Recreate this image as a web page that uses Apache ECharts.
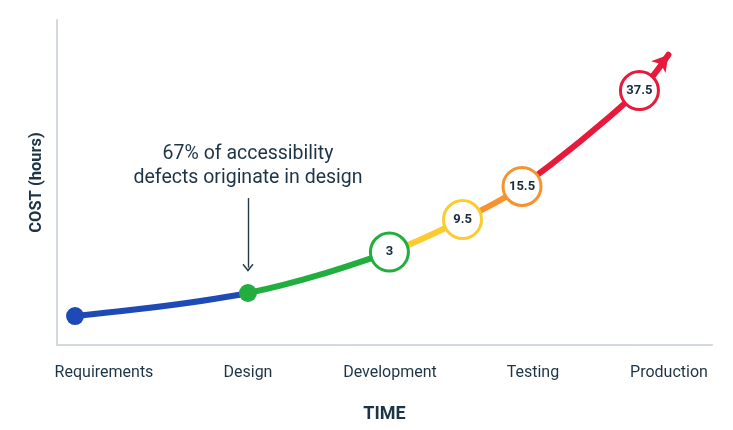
<!DOCTYPE html>
<html>
<head>
<meta charset="utf-8">
<script src="https://cdn.jsdelivr.net/npm/echarts@6/dist/echarts.min.js"></script>
<style>html,body{margin:0;padding:0;background:#fff}#c{width:733px;height:430px}</style>
</head>
<body>
<div id="c"></div>
<script>
// Stage names and where their labels sit on the (schematic) time axis
const stages = ['Requirements', 'Design', 'Development', 'Testing', 'Production'];
const stagePos = [0, 1.014, 2.014, 3.021, 3.979];

// Curve points: x = time progress, y = relative cost height (schematic)
const curveX = [-0.204, 1.014, 2.01, 2.525, 2.944, 3.771, 3.975];
const curveY = [8.9, 16.0, 28.6, 38.6, 48.8, 78.3, 89.3];

// Cost labels (hours) shown in the ringed markers
const costLabels = [null, null, '3', '9.5', '15.5', '37.5', null];

// Colour of each curve segment (segment i runs from point i to point i+1)
const segColors = ['#1d4ab4', '#22ad3f', '#fdca30', '#f7932e', '#e71a3b', '#e71a3b'];
// Colour of each point marker
const pointColors = ['#1d4ab4', '#22ad3f', '#22ad3f', '#fdca30', '#f7932e', '#e71a3b', '#e71a3b'];

const textColor = '#1d3447';

const chart = echarts.init(document.getElementById('c'), null, {renderer: 'canvas'});

const linePts = curveX.map((x, i) => {
  const p = {value: [x, curveY[i]]};
  if (i === curveX.length - 1) {
    p.symbol = 'arrow';
    p.symbolSize = [14, 16];
    p.symbolRotate = -39;
  } else {
    p.symbol = 'none';
  }
  return p;
});

const dots = [];
const rings = [];
curveX.forEach((x, i) => {
  if (i === curveX.length - 1) return;
  if (costLabels[i] === null) {
    dots.push({value: [x, curveY[i]], itemStyle: {color: pointColors[i]}});
  } else {
    rings.push({value: [x, curveY[i]], label: {formatter: costLabels[i]}, itemStyle: {borderColor: pointColors[i]}});
  }
});

const pieces = [];
for (let i = 0; i < 5; i++) {
  const lo = i === 0 ? -10 : curveX[i];
  const hi = i === 4 ? 10 : curveX[i + 1];
  pieces.push({gte: lo, lt: hi, color: segColors[i]});
}

const option = {
  animation: false,
  backgroundColor: '#ffffff',
  textStyle: {fontFamily: 'Roboto'},
  grid: {left: 57, right: 21, top: 20, bottom: 85},
  xAxis: {
    type: 'value',
    min: -0.331,
    max: 4.282,
    name: 'TIME',
    nameLocation: 'middle',
    nameGap: 60,
    nameTextStyle: {fontFamily: 'Roboto', fontWeight: 'bold', fontSize: 18, color: textColor},
    axisLine: {show: true, onZero: false, lineStyle: {color: '#d3d9df', width: 2}},
    axisTick: {show: false},
    splitLine: {show: false},
    axisLabel: {
      show: true,
      customValues: stagePos,
      margin: 20,
      fontFamily: 'Roboto',
      fontSize: 16,
      color: textColor,
      formatter: function (v) {
        let best = 0;
        stagePos.forEach((p, i) => { if (Math.abs(p - v) < Math.abs(stagePos[best] - v)) best = i; });
        return stages[best];
      }
    }
  },
  yAxis: {
    type: 'value',
    min: 0,
    max: 100,
    name: 'COST (hours)',
    nameLocation: 'middle',
    nameGap: 12,
    nameTextStyle: {fontFamily: 'Roboto', fontWeight: 'bold', fontSize: 16.5, color: textColor},
    axisLine: {show: true, onZero: false, lineStyle: {color: '#d3d9df', width: 2}},
    axisTick: {show: false},
    axisLabel: {show: false},
    splitLine: {show: false}
  },
  visualMap: {
    show: false,
    type: 'piecewise',
    dimension: 0,
    seriesIndex: 0,
    pieces: pieces
  },
  series: [
    {
      type: 'line',
      data: linePts,
      smooth: 0.35,
      lineStyle: {width: 6, cap: 'round'},
      z: 2,
      markLine: {
        silent: true,
        symbol: ['none', 'path://M6,0 L12,6.6 L10.9,7.6 L6,2.2 L1.1,7.6 L0,6.6 Z'],
        symbolSize: [11, 8],
        label: {show: false},
        lineStyle: {color: '#22384b', width: 1.4, type: 'solid'},
        data: [[{coord: [stagePos[1], 45.2]}, {coord: [stagePos[1], 23.8]}]]
      }
    },
    {
      type: 'scatter',
      data: dots,
      symbol: 'circle',
      symbolSize: 18,
      itemStyle: {opacity: 1},
      z: 3
    },
    {
      type: 'scatter',
      data: rings,
      symbol: 'circle',
      symbolSize: 38,
      itemStyle: {color: '#ffffff', borderWidth: 3, opacity: 1},
      label: {
        show: true,
        position: 'inside',
        fontFamily: 'Roboto',
        fontWeight: 'bold',
        fontSize: 13,
        color: '#1a2b3f'
      },
      z: 4
    }
  ],
  graphic: [
    {
      type: 'text',
      x: 248,
      y: 166,
      style: {
        text: '67% of accessibility\ndefects originate in design',
        fontFamily: 'Roboto',
        fontSize: 19.5,
        lineHeight: 24,
        fill: textColor,
        textAlign: 'center',
        textVerticalAlign: 'middle'
      }
    }
  ]
};

chart.setOption(option);
</script>
</body>
</html>
